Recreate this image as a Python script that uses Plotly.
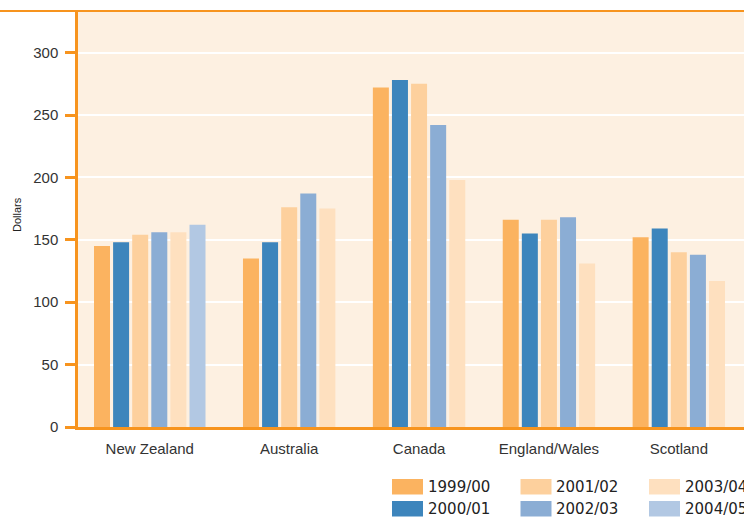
import plotly.graph_objects as go

# ---- data ----
categories = ["New Zealand", "Australia", "Canada", "England/Wales", "Scotland"]
series_names = ["1999/00", "2000/01", "2001/02", "2002/03", "2003/04", "2004/05"]
v_1999_00 = [145, 135, 272, 166, 152]
v_2000_01 = [148, 148, 278, 155, 159]
v_2001_02 = [154, 176, 275, 166, 140]
v_2002_03 = [156, 187, 242, 168, 138]
v_2003_04 = [156, 175, 198, 131, 117]
v_2004_05 = [162, None, None, None, None]
y_tick_vals = [0, 50, 100, 150, 200, 250, 300]
y_title = "Dollars"

series_values = [v_1999_00, v_2000_01, v_2001_02, v_2002_03, v_2003_04, v_2004_05]
colors = ["#FBB360", "#3D85BC", "#FDD09D", "#8BADD4", "#FEE0BF", "#B2C8E3"]

ORANGE = "#F7941E"
BG = "#FDF0E1"
TEXT = "#222222"

W, H = 744, 519
ML, MR, MT, MB = 78, 0, 11, 92
PW, PH = W - ML - MR, H - MT - MB

# layout of slots along x (in slot units)
GAP = 2.8
BAR_W = 16 / 19.1
PPU = 19.1
XMIN = -24 / PPU
XMAX = XMIN + PW / PPU

positions = []  # positions[g][s] for present bars
centers = []
start = 0.0
for g in range(len(categories)):
    present = [s for s in range(len(series_names)) if series_values[s][g] is not None]
    pos = {}
    for j, s in enumerate(present):
        pos[s] = start + j
    positions.append(pos)
    centers.append(start + (len(present) - 1) / 2)
    start = start + len(present) - 1 + GAP

fig = go.Figure()
for s, name in enumerate(series_names):
    xs, ys = [], []
    for g in range(len(categories)):
        v = series_values[s][g]
        if v is not None:
            xs.append(positions[g][s])
            ys.append(v)
    fig.add_trace(go.Bar(x=xs, y=ys, name=name, width=BAR_W,
                         marker=dict(color=colors[s], line=dict(width=0)),
                         showlegend=False, hoverinfo="y+name"))

def px2x(px):
    return (px - ML) / PW

def px2y(py):
    return 1 - (py - MT) / PH

shapes = []
annotations = []
# top border line spanning full width
shapes.append(dict(type="line", xref="paper", yref="paper",
                   x0=px2x(0), x1=px2x(W), y0=1, y1=1,
                   line=dict(color=ORANGE, width=2)))

# manual legend (3 columns, column-major)
col_x = [392, 520.5, 649]
row_y = [479, 501]
sw_w, sw_h = 31, 15.5
for i, name in enumerate(series_names):
    c, r = i // 2, i % 2
    x0, y0 = col_x[c], row_y[r]
    shapes.append(dict(type="rect", xref="paper", yref="paper",
                       x0=px2x(x0), x1=px2x(x0 + sw_w),
                       y0=px2y(y0 + sw_h), y1=px2y(y0),
                       fillcolor=colors[i], line=dict(width=0)))
    annotations.append(dict(xref="paper", yref="paper",
                            x=px2x(x0 + sw_w + 2.5), y=px2y(y0 + sw_h / 2 + 0.5),
                            xanchor="left", yanchor="middle", showarrow=False,
                            text=name, font=dict(family="DejaVu Sans", size=15, color=TEXT)))

annotations.append(dict(xref="paper", yref="paper", x=px2x(17), y=px2y(215),
                        text=y_title, textangle=-90, showarrow=False,
                        xanchor="center", yanchor="middle",
                        font=dict(family="Liberation Sans, Arial", size=11, color=TEXT)))

fig.update_layout(
    width=W, height=H,
    margin=dict(l=ML, r=MR, t=MT, b=MB, pad=0),
    paper_bgcolor="white", plot_bgcolor=BG,
    barmode="overlay",
    font=dict(family="Liberation Sans, Arial", size=15, color="#333333"),
    shapes=shapes, annotations=annotations,
    xaxis=dict(range=[XMIN, XMAX], tickvals=centers, ticktext=categories,
               showgrid=False, zeroline=False, showline=True,
               linecolor=ORANGE, linewidth=3, ticks="",
               ticklabelstandoff=6,
               tickfont=dict(size=15, color="#333333")),
    yaxis=dict(range=[0, (PH) / 1.248], tickvals=y_tick_vals,
               showgrid=True, gridcolor="white", gridwidth=2.2,
               zeroline=False, showline=True, linecolor=ORANGE, linewidth=2.5,
               ticks="outside", ticklen=10, tickwidth=2.5, tickcolor=ORANGE,
               ticklabelstandoff=4,
               tickfont=dict(size=15, color="#333333")),
)

fig.write_html("out.html")
